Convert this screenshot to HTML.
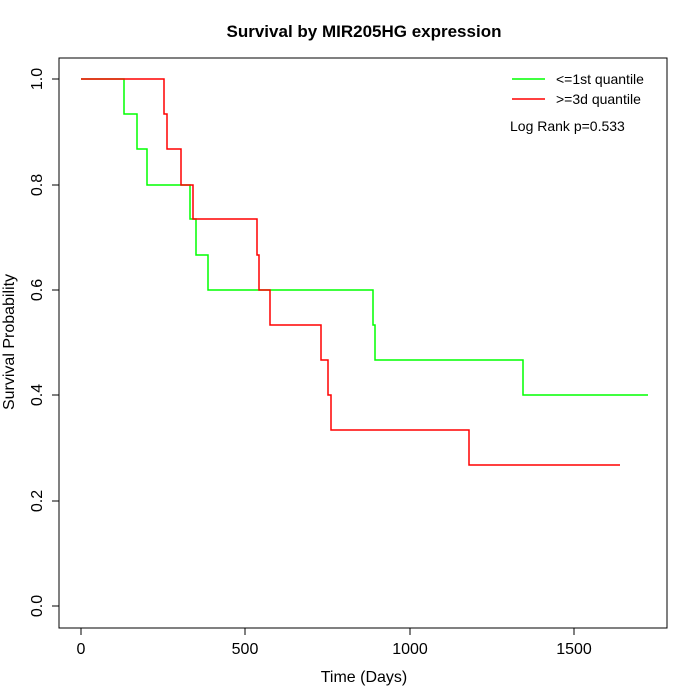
<!DOCTYPE html>
<html><head><style>body{margin:0;background:#fff}svg{display:block}text{font-family:"Liberation Sans",sans-serif}</style></head><body>
<svg width="700" height="700" viewBox="0 0 700 700">
<rect x="59" y="58" width="608" height="570" fill="none" stroke="#000" stroke-width="1"/>
<text x="364" y="37" font-size="17" font-weight="bold" text-anchor="middle">Survival by MIR205HG expression</text>
<g stroke="#000" fill="none">
<line x1="81" y1="628" x2="574" y2="628"/>
<line x1="81" y1="628" x2="81" y2="635"/><line x1="245" y1="628" x2="245" y2="635"/><line x1="410" y1="628" x2="410" y2="635"/><line x1="574" y1="628" x2="574" y2="635"/>
<line x1="59" y1="79" x2="59" y2="606"/>
<line x1="52" y1="79" x2="59" y2="79"/><line x1="52" y1="185" x2="59" y2="185"/><line x1="52" y1="290" x2="59" y2="290"/><line x1="52" y1="395" x2="59" y2="395"/><line x1="52" y1="501" x2="59" y2="501"/><line x1="52" y1="606" x2="59" y2="606"/>
</g>
<g font-size="16" text-anchor="middle">
<text x="81" y="654">0</text><text x="245" y="654">500</text><text x="410" y="654">1000</text><text x="574" y="654">1500</text>
<text x="364" y="682">Time (Days)</text>
</g>
<g font-size="16" text-anchor="middle">
<text transform="translate(42,79) rotate(-90)">1.0</text>
<text transform="translate(42,185) rotate(-90)">0.8</text>
<text transform="translate(42,290) rotate(-90)">0.6</text>
<text transform="translate(42,395) rotate(-90)">0.4</text>
<text transform="translate(42,501) rotate(-90)">0.2</text>
<text transform="translate(42,606) rotate(-90)">0.0</text>
<text transform="translate(14,342) rotate(-90)">Survival Probability</text>
</g>
<polyline fill="none" stroke="#00ff00" stroke-width="1.5" points="81,79 124,79 124,114 137,114 137,149 147,149 147,185 190,185 190,219 196,219 196,255 208,255 208,290 373,290 373,325 375,325 375,360 523,360 523,395 648,395"/>
<polyline fill="none" stroke="#ff0000" stroke-width="1.5" points="81,79 164,79 164,114 167,114 167,149 181,149 181,185 193,185 193,219 257,219 257,255 259,255 259,290 270,290 270,325 321,325 321,360 328,360 328,395 331,395 331,430 469,430 469,465 620,465"/>
<line x1="512" y1="79" x2="545" y2="79" stroke="#00ff00" stroke-width="1.5"/>
<line x1="512" y1="99" x2="545" y2="99" stroke="#ff0000" stroke-width="1.5"/>
<g font-size="14"><text x="556" y="84">&lt;=1st quantile</text><text x="556" y="104">&gt;=3d quantile</text><text x="510" y="131">Log Rank p=0.533</text></g>
</svg>
</body></html>
